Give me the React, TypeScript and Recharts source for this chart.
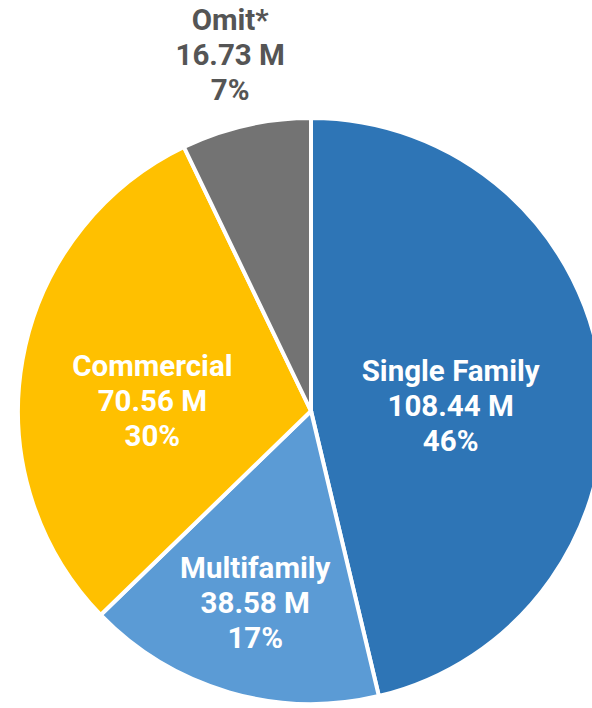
import { Cell, Pie, PieChart } from 'recharts';

const categories = ['Single Family', 'Multifamily', 'Commercial', 'Omit*'];
const values = [108.44, 38.58, 70.56, 16.73];
const percents = ['46%', '17%', '30%', '7%'];

const COLORS = ['#2E75B6', '#5B9BD5', '#FFC000', '#737373'];
// label placement per slice: fraction of radius, vertical nudge, text colour
const LABEL_POS = [
  { r: 0.48, dy: 11, fill: '#ffffff' },
  { r: 0.68, dy: 1, fill: '#ffffff' },
  { r: 0.55, dy: 18, fill: '#ffffff' },
  { r: 1.24, dy: -2, fill: '#555555' },
];

const data = categories.map((name, i) => ({ name, value: values[i], pct: percents[i] }));

const RAD = Math.PI / 180;
const LINE = 35;

function SliceLabel(props: any) {
  const { cx, cy, midAngle, outerRadius, index } = props;
  const pos = LABEL_POS[index];
  const r = outerRadius * pos.r;
  const x = cx + r * Math.cos(-midAngle * RAD);
  const y = cy + r * Math.sin(-midAngle * RAD) + pos.dy;
  const d = data[index];
  return (
    <text
      x={x}
      y={y + 10 - LINE}
      textAnchor="middle"
      fill={pos.fill}
      fontFamily="Roboto, sans-serif"
      fontWeight={700}
      fontSize={29.5}
    >
      <tspan x={x}>{d.name}</tspan>
      <tspan x={x} dy={LINE}>{`${d.value.toFixed(2)} M`}</tspan>
      <tspan x={x} dy={LINE}>{d.pct}</tspan>
    </text>
  );
}

export default function App() {
  return (
    <div style={{ position: 'fixed', left: 0, top: 0, width: 592, height: 708, background: '#fff' }}>
      <PieChart width={592} height={708} margin={{ top: 0, right: 0, bottom: 0, left: 0 }}>
        <Pie
          data={data}
          dataKey="value"
          nameKey="name"
          cx={311}
          cy={411}
          outerRadius={293}
          startAngle={90}
          endAngle={-270}
          stroke="#ffffff"
          strokeWidth={4}
          label={SliceLabel}
          labelLine={false}
          isAnimationActive={false}
        >
          {data.map((d, i) => (
            <Cell key={d.name} fill={COLORS[i]} />
          ))}
        </Pie>
      </PieChart>
    </div>
  );
}
